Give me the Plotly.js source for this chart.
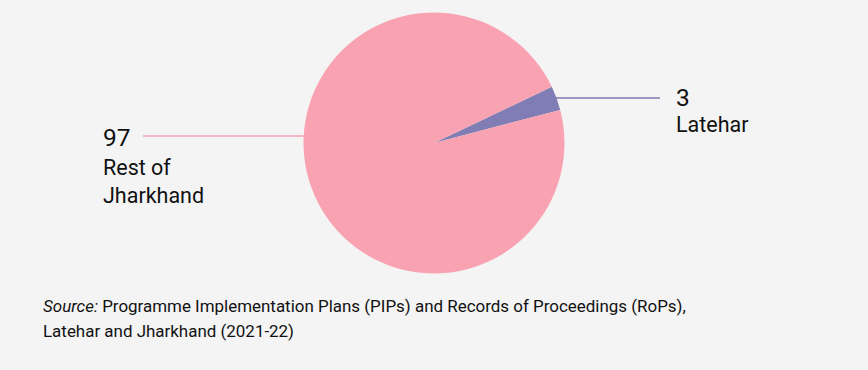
<!DOCTYPE html>
<html>
<head>
<meta charset="utf-8">
<script src="https://cdn.plot.ly/plotly-3.0.1.min.js"></script>
<style>
html,body{margin:0;padding:0;background:#f4f4f4;}
#chart{width:868px;height:370px;}
</style>
</head>
<body>
<div id="chart"></div>
<script>
const categories = ["Latehar", "Rest of<br>Jharkhand"];
const values = [3, 97];
const colors = ["#7f7db4", "#f9a3b2"];
const sourceLine1 = "<i>Source:</i> Programme Implementation Plans (PIPs) and Records of Proceedings (RoPs),";
const sourceLine2 = "Latehar and Jharkhand (2021-22)";

const W = 868, H = 370;
const px = x => x / W;
const py = y => 1 - y / H;

const trace = {
  type: "pie",
  labels: categories,
  values: values,
  sort: false,
  direction: "clockwise",
  rotation: 64.5,
  marker: {colors: colors, line: {width: 0}},
  textinfo: "none",
  hoverinfo: "label+value",
  showlegend: false,
  domain: {x: [px(303.5), px(564.5)], y: [py(273.5), py(12.5)]}
};

const font = "Roboto, 'Open Sans', sans-serif";
const layout = {
  width: W, height: H,
  margin: {l: 0, r: 0, t: 0, b: 0},
  paper_bgcolor: "#f4f4f4",
  plot_bgcolor: "#f4f4f4",
  showlegend: false,
  shapes: [
    {type: "line", xref: "paper", yref: "paper", x0: px(556), x1: px(660), y0: py(98), y1: py(98), line: {color: colors[0], width: 1.6}},
    {type: "line", xref: "paper", yref: "paper", x0: px(143), x1: px(305), y0: py(136), y1: py(136), line: {color: colors[1], width: 1.6}}
  ],
  annotations: [
    {xref: "paper", yref: "paper", x: px(674), y: py(97), xanchor: "left", yanchor: "middle", showarrow: false, text: String(values[0]), font: {family: font, size: 24.5, color: "#111"}},
    {xref: "paper", yref: "paper", x: px(674), y: py(124), xanchor: "left", yanchor: "middle", showarrow: false, text: categories[0], font: {family: font, size: 21.5, color: "#111"}},
    {xref: "paper", yref: "paper", x: px(101), y: py(137), xanchor: "left", yanchor: "middle", showarrow: false, text: String(values[1]), font: {family: font, size: 24.5, color: "#111"}},
    {xref: "paper", yref: "paper", x: px(101), y: py(181.5), xanchor: "left", yanchor: "middle", align: "left", showarrow: false, text: categories[1], font: {family: font, size: 21.5, color: "#111"}},
    {xref: "paper", yref: "paper", x: px(41), y: py(306), xanchor: "left", yanchor: "middle", showarrow: false, text: sourceLine1, font: {family: font, size: 16.95, color: "#111"}},
    {xref: "paper", yref: "paper", x: px(41), y: py(331), xanchor: "left", yanchor: "middle", showarrow: false, text: sourceLine2, font: {family: font, size: 16.95, color: "#111"}}
  ]
};

Plotly.newPlot("chart", [trace], layout, {displayModeBar: false, staticPlot: true});
</script>
</body>
</html>
